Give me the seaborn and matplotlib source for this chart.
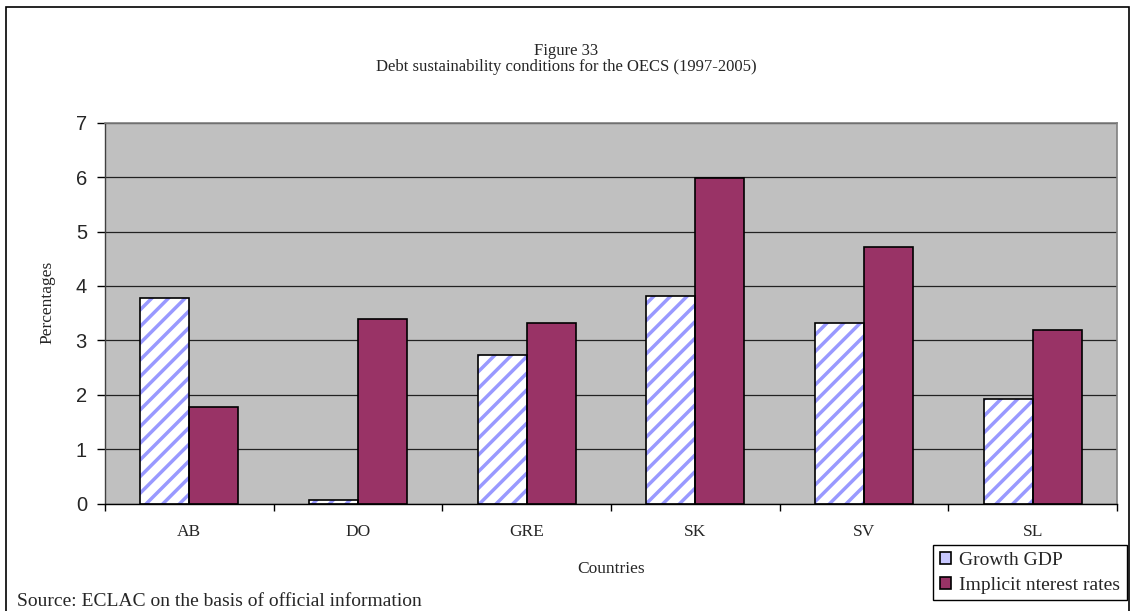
import matplotlib
matplotlib.use('Agg')
import matplotlib.pyplot as plt
import seaborn as sns
import pandas as pd
from matplotlib.patches import Rectangle, Patch
from matplotlib.ticker import FixedLocator

countries = ['AB', 'DO', 'GRE', 'SK', 'SV', 'SL']
growth_gdp = [3.78, 0.06, 2.73, 3.81, 3.32, 1.93]
implicit_interest = [1.78, 3.39, 3.32, 5.98, 4.72, 3.19]
series = ['Growth GDP', 'Implicit nterest rates']
yticks = [0, 1, 2, 3, 4, 5, 6, 7]

df = pd.DataFrame({
    'Country': countries * 2,
    'Series': [series[0]] * len(countries) + [series[1]] * len(countries),
    'Value': growth_gdp + implicit_interest,
})

sns.set_theme(style='white')
plt.rcParams['font.family'] = ['Liberation Serif', 'DejaVu Serif']
plt.rcParams['hatch.linewidth'] = 2.5

W, H = 1133, 611
fig = plt.figure(figsize=(W / 100, H / 100), dpi=100)
fig.patch.set_facecolor('white')
ax = fig.add_axes([105 / W, 1 - 503.5 / H, (1117 - 105) / W, (503.5 - 122.7) / H])
ax.set_facecolor('#C0C0C0')

sns.barplot(data=df, x='Country', y='Value', hue='Series', order=countries,
            hue_order=series, palette=['white', '#993366'], width=0.58,
            saturation=1, edgecolor='black', linewidth=1.2, ax=ax, legend=False)

# hatched growth bars with blue stripes and black outline
for p in ax.containers[0].patches:
    p.set_hatch('//')
    p.set_edgecolor('#9999ff')
    p.set_linewidth(0)
    ax.add_patch(Rectangle(p.get_xy(), p.get_width(), p.get_height(), fill=False,
                           edgecolor='black', linewidth=1.2, zorder=p.get_zorder() + 0.1))

ax.set_ylim(0, 7)
ax.set_xlim(-0.5, len(countries) - 0.5)
ax.set_yticks(yticks)
ax.set_axisbelow(True)
ax.yaxis.grid(True, color='#222222', linewidth=0.9)
ax.xaxis.grid(False)

for s in ['top', 'right']:
    ax.spines[s].set_color('#808080')
    ax.spines[s].set_linewidth(1.2)
ax.spines['left'].set_color('#404040')
ax.spines['left'].set_linewidth(1.0)
ax.spines['bottom'].set_color('black')
ax.spines['bottom'].set_linewidth(1.0)

ax.tick_params(axis='y', which='major', length=6, width=1, color='black',
               direction='out', left=True, labelsize=14.5, pad=7)
for lab in ax.get_yticklabels():
    lab.set_fontfamily(['Liberation Sans', 'DejaVu Sans'])
ax.xaxis.set_minor_locator(FixedLocator([i - 0.5 for i in range(len(countries) + 1)]))
ax.tick_params(axis='x', which='major', length=0, labelsize=12.5, pad=15)
ax.tick_params(axis='x', which='minor', length=5, width=1, color='black',
               direction='out', bottom=True)

ax.set_xlabel('Countries', fontsize=12.5)
ax.xaxis.set_label_coords(0.5, -0.151)
ax.set_ylabel('Percentages', fontsize=12.5)
ax.yaxis.set_label_coords(-0.049, 0.527)

fig.text(0.5, 1 - 51 / H, 'Figure 33', ha='center', va='center', fontsize=12)
fig.text(0.5, 1 - 67 / H, 'Debt sustainability conditions for the OECS (1997-2005)',
         ha='center', va='center', fontsize=12)
fig.text(17 / W, 1 - 606 / H, 'Source: ECLAC on the basis of official information',
         ha='left', va='baseline', fontsize=14)

handles = [Patch(facecolor='#c8c8ff', edgecolor='black', linewidth=1.2),
           Patch(facecolor='#993366', edgecolor='black', linewidth=1.2)]
leg = fig.legend(handles, series, loc='upper left', bbox_to_anchor=(933 / W, 1 - 545 / H),
                 frameon=True, fancybox=False, edgecolor='black', borderaxespad=0,
                 fontsize=14, handlelength=0.6, handleheight=0.6, handletextpad=0.4,
                 borderpad=0.35, labelspacing=0.4, framealpha=1)
leg.get_frame().set_linewidth(1.0)

fig.add_artist(Rectangle((6 / W, -0.05), (1129 - 6) / W, 1.05 - 7 / H, fill=False,
                         edgecolor='black', linewidth=1.2, transform=fig.transFigure))

fig.savefig('out.png', dpi=100)
